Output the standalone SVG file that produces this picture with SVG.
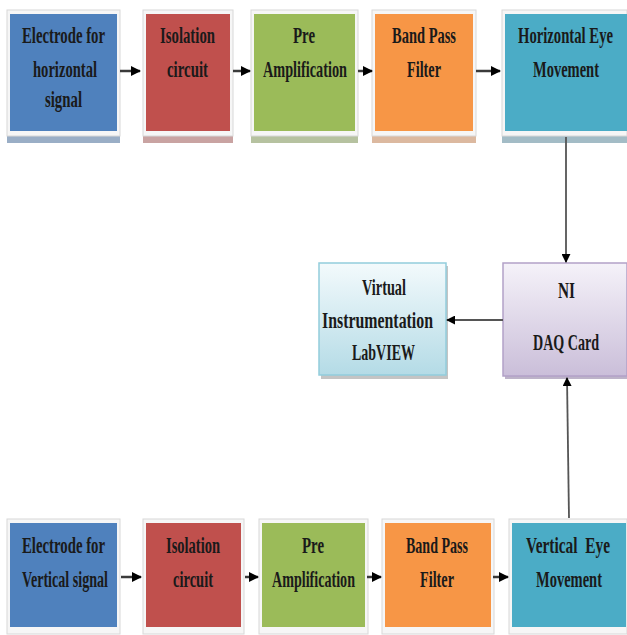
<svg xmlns="http://www.w3.org/2000/svg" width="627" height="635" viewBox="0 0 627 635">
<style>
.t{font-family:"Liberation Serif","Times New Roman",serif;font-size:24px;font-weight:bold;fill:#1a1a1a;}
.frame{fill:#f6f6f6;stroke:#d8d8d8;stroke-width:1;}
.conn line{stroke:#3a3a3a;stroke-width:2.5;}
.vconn line{stroke:#555;stroke-width:1.8;}
</style>
<defs>
<marker id="ah" viewBox="0 0 10 10" refX="9" refY="5" markerWidth="4" markerHeight="4" orient="auto" markerUnits="strokeWidth">
<path d="M0,0 L10,5 L0,10 z" fill="#000"/>
</marker>
<marker id="ah2" viewBox="0 0 10 10" refX="9" refY="5" markerWidth="5" markerHeight="5" orient="auto" markerUnits="strokeWidth">
<path d="M0,0 L10,5 L0,10 z" fill="#000"/>
</marker>
<linearGradient id="gv" x1="0" y1="0" x2="0" y2="1">
<stop offset="0" stop-color="#f3fafc"/>
<stop offset="1" stop-color="#b4dbe6"/>
</linearGradient>
<linearGradient id="gn" x1="0" y1="0" x2="0" y2="1">
<stop offset="0" stop-color="#f5f2f9"/>
<stop offset="1" stop-color="#cabed9"/>
</linearGradient>
</defs>

<!-- Top row -->
<g id="h1">
<rect x="7" y="136" width="113" height="7" fill="#9aaec6"/>
<rect class="frame" x="7" y="10" width="113" height="126"/>
<rect x="10" y="14" width="107" height="117" fill="#4f81bd"/>
<text class="t" x="22" y="43" textLength="83" lengthAdjust="spacingAndGlyphs">Electrode for</text>
<text class="t" x="33" y="77" textLength="64" lengthAdjust="spacingAndGlyphs">horizontal</text>
<text class="t" x="45" y="107" textLength="37" lengthAdjust="spacingAndGlyphs">signal</text>
</g>
<g id="h2">
<rect x="143" y="136" width="90" height="7" fill="#c9a3a2"/>
<rect class="frame" x="143" y="10" width="90" height="126"/>
<rect x="146" y="14" width="84" height="117" fill="#c0504d"/>
<text class="t" x="160" y="43" textLength="55" lengthAdjust="spacingAndGlyphs">Isolation</text>
<text class="t" x="167" y="77" textLength="41" lengthAdjust="spacingAndGlyphs">circuit</text>
</g>
<g id="h3">
<rect x="251" y="136" width="107" height="7" fill="#b6c2a0"/>
<rect class="frame" x="251" y="10" width="107" height="126"/>
<rect x="254" y="14" width="101" height="117" fill="#9bbb59"/>
<text class="t" x="293" y="43" textLength="22" lengthAdjust="spacingAndGlyphs">Pre</text>
<text class="t" x="263" y="77" textLength="84" lengthAdjust="spacingAndGlyphs">Amplification</text>
</g>
<g id="h4">
<rect x="372" y="136" width="104" height="7" fill="#dcb9a0"/>
<rect class="frame" x="372" y="10" width="104" height="126"/>
<rect x="375" y="14" width="98" height="117" fill="#f79646"/>
<text class="t" x="392" y="43" textLength="64" lengthAdjust="spacingAndGlyphs">Band Pass</text>
<text class="t" x="407" y="77" textLength="34" lengthAdjust="spacingAndGlyphs">Filter</text>
</g>
<g id="h5">
<rect x="502" y="136" width="125" height="7" fill="#a3bcc6"/>
<rect class="frame" x="502" y="10" width="125" height="126"/>
<rect x="505" y="14" width="122" height="117" fill="#4bacc6"/>
<text class="t" x="518" y="43" textLength="95" lengthAdjust="spacingAndGlyphs">Horizontal Eye</text>
<text class="t" x="533" y="77" textLength="66" lengthAdjust="spacingAndGlyphs">Movement</text>
</g>

<!-- Middle -->
<g id="virtual">
<rect x="321" y="266" width="127" height="113" fill="#c4c4c4"/>
<rect x="319" y="263" width="127" height="112" fill="url(#gv)" stroke="#92cddc" stroke-width="1.5"/>
<text class="t" x="362" y="295" textLength="44" lengthAdjust="spacingAndGlyphs">Virtual</text>
<text class="t" x="322" y="328" textLength="111" lengthAdjust="spacingAndGlyphs">Instrumentation</text>
<text class="t" x="352" y="360" textLength="63" lengthAdjust="spacingAndGlyphs">LabVIEW</text>
</g>
<g id="ni">
<rect x="505" y="266" width="122" height="113" fill="#bdb3c9"/>
<rect x="503" y="263" width="124" height="113" fill="url(#gn)" stroke="#b2a1c7" stroke-width="1.5"/>
<text class="t" x="558" y="298" textLength="17" lengthAdjust="spacingAndGlyphs">NI</text>
<text class="t" x="533" y="350" textLength="66" lengthAdjust="spacingAndGlyphs">DAQ Card</text>
</g>

<!-- Bottom row -->
<g id="v1">
<rect class="frame" x="7" y="519" width="113" height="115"/>
<rect x="10" y="523" width="107" height="104" fill="#4f81bd"/>
<text class="t" x="22" y="553" textLength="83" lengthAdjust="spacingAndGlyphs">Electrode for</text>
<text class="t" x="22" y="587" textLength="86" lengthAdjust="spacingAndGlyphs">Vertical signal</text>
</g>
<g id="v2">
<rect class="frame" x="143" y="519" width="101" height="115"/>
<rect x="146" y="523" width="95" height="104" fill="#c0504d"/>
<text class="t" x="166" y="553" textLength="54" lengthAdjust="spacingAndGlyphs">Isolation</text>
<text class="t" x="173" y="587" textLength="40" lengthAdjust="spacingAndGlyphs">circuit</text>
</g>
<g id="v3">
<rect class="frame" x="259" y="519" width="109" height="115"/>
<rect x="262" y="523" width="103" height="104" fill="#9bbb59"/>
<text class="t" x="302" y="553" textLength="22" lengthAdjust="spacingAndGlyphs">Pre</text>
<text class="t" x="272" y="587" textLength="83" lengthAdjust="spacingAndGlyphs">Amplification</text>
</g>
<g id="v4">
<rect class="frame" x="382" y="519" width="112" height="115"/>
<rect x="385" y="523" width="106" height="104" fill="#f79646"/>
<text class="t" x="406" y="553" textLength="62" lengthAdjust="spacingAndGlyphs">Band Pass</text>
<text class="t" x="420" y="587" textLength="34" lengthAdjust="spacingAndGlyphs">Filter</text>
</g>
<g id="v5">
<rect class="frame" x="509" y="519" width="118" height="115"/>
<rect x="512" y="523" width="114" height="104" fill="#4bacc6"/>
<text class="t" x="526" y="553" textLength="84" lengthAdjust="spacingAndGlyphs" xml:space="preserve">Vertical  Eye</text>
<text class="t" x="536" y="587" textLength="66" lengthAdjust="spacingAndGlyphs">Movement</text>
</g>

<!-- Connectors -->
<g id="connectors">
<g class="conn">
<line x1="120" y1="71" x2="140" y2="71" marker-end="url(#ah)"/>
<line x1="233" y1="71" x2="250" y2="71" marker-end="url(#ah)"/>
<line x1="358" y1="71" x2="372" y2="71" marker-end="url(#ah)"/>
<line x1="476" y1="71" x2="500" y2="71" marker-end="url(#ah)"/>
<line x1="121" y1="577" x2="141" y2="577" marker-end="url(#ah)"/>
<line x1="245" y1="577" x2="258" y2="577" marker-end="url(#ah)"/>
<line x1="367" y1="577" x2="381" y2="577" marker-end="url(#ah)"/>
<line x1="493" y1="577" x2="508" y2="577" marker-end="url(#ah)"/>
</g>
<g class="vconn">
<line x1="566" y1="137" x2="566" y2="262" marker-end="url(#ah2)"/>
<line x1="503" y1="320" x2="447" y2="320" marker-end="url(#ah2)"/>
<line x1="569" y1="518" x2="567" y2="378" marker-end="url(#ah2)"/>
</g>
</g>
</svg>
